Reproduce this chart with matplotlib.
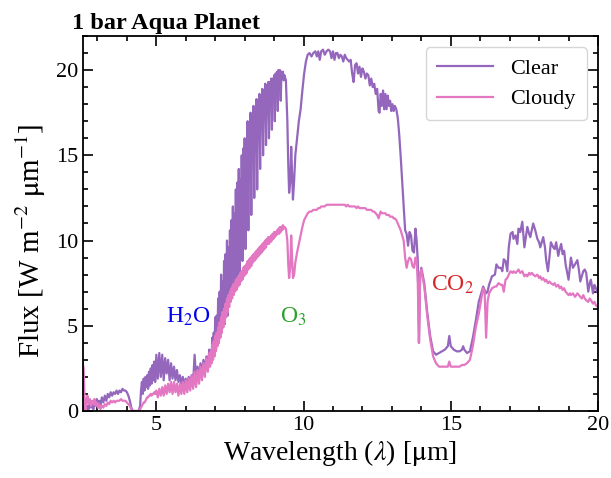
import matplotlib
matplotlib.use("Agg")
import matplotlib.pyplot as plt
from matplotlib.ticker import MultipleLocator
import numpy as np

# ---- Segment 1: 2.5 - 5 um
wl_s1 = [2.50, 2.53, 2.56, 2.59, 2.62, 2.66, 2.70, 2.74, 2.78, 2.82, 2.86, 2.90, 2.94, 2.98,
         3.02, 3.06, 3.10, 3.15, 3.20, 3.25, 3.30, 3.35, 3.40, 3.45, 3.50, 3.55, 3.60, 3.65,
         3.70, 3.75, 3.80, 3.85, 3.90, 3.95, 4.00, 4.05, 4.10, 4.15, 4.20, 4.30, 4.40, 4.45,
         4.48, 4.51, 4.54, 4.57, 4.60, 4.63, 4.66, 4.69, 4.72, 4.75, 4.78, 4.81, 4.84, 4.87,
         4.90, 4.93, 4.96]
clear_s1 = [0.3, 0.1, 0.0, 0.2, 0.0, 0.3, 0.1, 0.4, 0.2, 0.5, 0.1, 0.6, 0.3, 0.7,
            0.2, 0.6, 0.3, 0.8, 0.5, 0.9, 0.6, 1.0, 0.8, 1.1, 0.9, 1.1, 1.0, 1.2,
            1.0, 1.2, 1.1, 1.3, 1.2, 1.2, 1.1, 0.9, 0.6, 0.2, 0.0, 0.0, 0.0, 0.3,
            1.2, 1.7, 1.0, 1.9, 1.2, 2.0, 1.4, 2.1, 1.3, 2.3, 1.5, 2.5, 1.6, 2.7,
            1.8, 2.9, 1.7]
cloudy_s1 = [2.8, 2.5, 0.8, 0.0, 0.6, 0.9, 0.4, 0.7, 0.3, 0.6, 0.4, 0.7, 0.3, 0.5,
             0.2, 0.4, 0.1, 0.3, 0.2, 0.4, 0.3, 0.5, 0.4, 0.6, 0.5, 0.6, 0.5, 0.6,
             0.6, 0.6, 0.7, 0.6, 0.6, 0.6, 0.5, 0.4, 0.3, 0.1, 0.0, 0.0, 0.0, 0.1,
             0.2, 0.3, 0.4, 0.5, 0.5, 0.6, 0.7, 0.8, 0.8, 0.9, 0.9, 1.0, 0.9, 1.0,
             1.0, 1.1, 1.0]

# ---- Segment 2a: water band 5 - 6.75 um
wl_s2a = [5.00, 5.05, 5.10, 5.15, 5.20, 5.25, 5.30, 5.35, 5.40, 5.45, 5.50, 5.55,
          5.60, 5.65, 5.70, 5.75, 5.80, 5.85, 5.90, 5.95, 6.00, 6.05, 6.10, 6.15,
          6.20, 6.25, 6.30, 6.35, 6.40, 6.45, 6.50, 6.55, 6.60, 6.65, 6.70, 6.75]
clear_s2a = [3.3, 1.9, 3.4, 2.0, 3.3, 1.8, 3.1, 2.2, 3.0, 1.8, 2.8, 1.9,
             2.6, 1.8, 2.4, 1.7, 2.1, 1.6, 2.0, 1.5, 1.9, 1.6, 2.0, 1.6,
             2.1, 1.7, 3.3, 1.9, 2.6, 2.0, 2.8, 2.2, 3.0, 2.4, 3.2, 2.6]
cloudy_s2a = [1.2, 0.8, 1.3, 0.9, 1.4, 0.9, 1.5, 1.0, 1.6, 1.1, 1.7, 1.0,
              1.7, 1.1, 1.6, 0.9, 1.6, 1.0, 1.7, 1.0, 1.8, 1.1, 1.9, 1.2,
              2.1, 1.3, 2.3, 1.4, 2.4, 1.6, 2.6, 1.8, 2.8, 2.0, 3.1, 2.3]

# ---- Segment 2b: water band 6.8 - 9.35 um
wl_s2b = [6.800, 6.825, 6.850, 6.875, 6.900, 6.925, 6.950, 6.975,
          7.000, 7.025, 7.050, 7.075, 7.100, 7.125, 7.150, 7.175,
          7.200, 7.225, 7.250, 7.275, 7.300, 7.325, 7.350, 7.375,
          7.400, 7.425, 7.450, 7.475, 7.500, 7.525, 7.550, 7.575,
          7.600, 7.625, 7.650, 7.675, 7.700, 7.725, 7.750, 7.775,
          7.800, 7.825, 7.850, 7.875, 7.900, 7.925, 7.950, 7.975,
          8.000, 8.025, 8.050, 8.075, 8.100, 8.125, 8.150, 8.175,
          8.200, 8.225, 8.250, 8.275, 8.300, 8.325, 8.350, 8.375,
          8.400, 8.425, 8.450, 8.475, 8.500, 8.525, 8.550, 8.575,
          8.600, 8.625, 8.650, 8.675, 8.700, 8.725, 8.750, 8.775,
          8.800, 8.825, 8.850, 8.875, 8.900, 8.925, 8.950, 8.975,
          9.000, 9.025, 9.050, 9.075, 9.100, 9.125, 9.150, 9.175,
          9.200, 9.225, 9.250, 9.275, 9.300, 9.325, 9.350]
clear_s2b = [3.6, 2.8, 3.5, 3.0, 4.3, 3.2, 4.6, 3.4,
             5.5, 3.6, 5.6, 4.2, 6.6, 4.0, 7.0, 4.9,
             8.0, 4.6, 7.6, 5.4, 8.8, 5.1, 9.2, 6.3,
             10.0, 5.6, 9.6, 7.0, 10.6, 6.5, 11.2, 8.0,
             12.0, 7.0, 11.6, 8.6, 13.0, 7.5, 13.4, 9.6,
             14.2, 8.0, 13.6, 10.5, 15.0, 8.8, 15.4, 11.5,
             16.0, 9.5, 15.6, 12.6, 17.0, 10.6, 16.7, 13.8,
             17.5, 11.5, 17.3, 14.8, 17.9, 12.5, 17.6, 15.6,
             18.3, 13.0, 18.1, 16.2, 18.6, 14.2, 18.4, 16.9,
             18.9, 15.0, 18.8, 17.3, 19.2, 15.6, 19.1, 17.8,
             19.3, 16.0, 19.3, 18.1, 19.5, 16.5, 19.5, 18.5,
             19.7, 17.0, 19.8, 18.9, 19.9, 17.6, 20.0, 19.3,
             20.0, 18.2, 19.9, 19.5, 19.9, 19.4, 19.7]
cloudy_s2b = [3.4, 2.6, 3.5, 2.8, 3.9, 3.0, 4.1, 3.2,
              4.4, 3.5, 4.6, 3.8, 4.9, 4.0, 5.2, 4.3,
              5.5, 4.6, 5.8, 4.9, 6.0, 5.2, 6.3, 5.5,
              6.6, 5.8, 6.8, 6.1, 7.0, 6.4, 7.2, 6.6,
              7.4, 6.8, 7.5, 7.0, 7.7, 7.1, 7.8, 7.3,
              7.9, 7.4, 8.1, 7.6, 8.2, 7.7, 8.4, 7.9,
              8.5, 8.0, 8.6, 8.1, 8.8, 8.3, 8.9, 8.4,
              9.0, 8.5, 9.1, 8.7, 9.2, 8.8, 9.3, 8.9,
              9.4, 9.0, 9.5, 9.1, 9.6, 9.2, 9.7, 9.3,
              9.8, 9.4, 9.9, 9.5, 10.0, 9.6, 10.1, 9.8,
              10.2, 9.8, 10.2, 9.9, 10.3, 10.0, 10.4, 10.1,
              10.5, 10.2, 10.5, 10.3, 10.6, 10.4, 10.7, 10.4,
              10.8, 10.5, 10.8, 10.6, 10.9, 10.7, 10.8]

# ---- Segment 3: ozone band
wl_s3 = [9.40, 9.45, 9.48, 9.51, 9.55, 9.58, 9.61, 9.64, 9.68, 9.72, 9.78, 9.84, 9.90,
         9.96, 10.02, 10.08, 10.14, 10.20]
clear_s3 = [19.4, 17.0, 14.5, 12.8, 13.5, 15.5, 14.0, 12.4, 13.5, 15.0, 16.0, 17.0, 17.7,
            18.8, 19.8, 20.5, 20.9, 21.0]
cloudy_s3 = [10.7, 10.0, 8.6, 7.8, 8.5, 10.3, 9.0, 7.8, 8.0, 8.7, 9.3, 9.8, 10.3,
             10.8, 11.2, 11.4, 11.6, 11.7]

# ---- Segment 4: atmospheric window
wl_s4 = [10.27, 10.33, 10.40, 10.45, 10.50, 10.55, 10.60, 10.66, 10.72, 10.78, 10.84, 10.90,
         10.95, 11.00, 11.05, 11.10, 11.15, 11.20, 11.25, 11.30, 11.35, 11.40, 11.45, 11.50,
         11.55, 11.60, 11.65, 11.70, 11.75, 11.80, 11.85, 11.90, 11.95, 12.00, 12.05, 12.10,
         12.15, 12.20, 12.25, 12.30, 12.35, 12.40, 12.45, 12.50, 12.55, 12.58, 12.62, 12.66,
         12.70, 12.74, 12.78, 12.82, 12.86, 12.90, 12.94, 12.98, 13.02, 13.06, 13.10, 13.15,
         13.20, 13.25]
clear_s4 = [20.8, 21.0, 21.1, 20.8, 21.1, 20.6, 21.1, 21.2, 20.9, 21.1, 21.2, 21.1,
            20.7, 21.1, 20.6, 21.0, 21.0, 20.7, 20.9, 20.8, 20.5, 20.9, 20.7, 20.6,
            20.5, 20.6, 19.8, 19.3, 20.3, 20.4, 19.8, 20.2, 19.6, 20.1, 19.9, 19.5,
            19.8, 19.7, 19.1, 19.5, 19.0, 19.2, 18.6, 18.9, 17.6, 17.5, 18.6, 17.9,
            18.8, 17.7, 18.6, 17.7, 18.5, 17.9, 18.2, 17.6, 18.0, 17.6, 17.9, 17.7,
            17.2, 16.2]
cloudy_s4 = [11.7, 11.8, 11.8, 11.8, 11.9, 11.9, 12.0, 12.0, 12.0, 12.1, 12.1, 12.1,
             12.1, 12.1, 12.1, 12.1, 12.1, 12.1, 12.1, 12.1, 12.1, 12.1, 12.0, 12.1,
             12.0, 12.0, 12.0, 12.0, 12.0, 11.9, 12.0, 11.9, 11.9, 11.9, 11.9, 11.9,
             11.8, 11.8, 11.8, 11.8, 11.7, 11.7, 11.6, 11.5, 11.3, 11.5, 11.7, 11.6,
             11.6, 11.6, 11.6, 11.5, 11.5, 11.5, 11.4, 11.4, 11.4, 11.3, 11.3, 11.2,
             11.0, 10.8]

# ---- Segment 5: CO2 band
wl_s5 = [13.30, 13.35, 13.40, 13.45, 13.50, 13.55, 13.60, 13.65, 13.70, 13.75, 13.80, 13.84,
         13.88, 13.92, 13.96, 14.00, 14.10, 14.20, 14.30, 14.40, 14.50, 14.60, 14.70, 14.80,
         14.90, 14.95, 15.00, 15.10, 15.20, 15.30, 15.38, 15.42, 15.46, 15.55, 15.65, 15.75,
         15.85, 15.95, 16.05, 16.10, 16.15, 16.20, 16.25, 16.30, 16.40, 16.50, 16.55, 16.62,
         16.70]
clear_s5 = [14.9, 13.5, 12.0, 10.6, 10.4, 9.7, 10.5, 10.3, 9.4, 9.3, 10.7, 10.0,
            8.8, 4.0, 8.0, 8.4, 7.5, 5.8, 4.4, 3.5, 3.3, 3.4, 3.5, 3.6,
            3.8, 4.4, 3.8, 3.6, 3.5, 3.5, 3.6, 3.8, 3.6, 3.4, 3.5, 4.3,
            5.3, 6.4, 7.0, 7.3, 7.1, 6.9, 7.0, 7.4, 7.9, 8.0, 8.6, 8.4,
            8.4]
cloudy_s5 = [10.6, 10.3, 10.0, 9.0, 8.4, 8.8, 9.0, 8.9, 8.5, 8.4, 9.0, 8.9,
             7.5, 4.0, 8.0, 8.3, 7.3, 5.6, 4.2, 3.2, 2.8, 2.6, 2.6, 2.6,
             2.6, 2.9, 2.6, 2.6, 2.6, 2.6, 2.7, 2.7, 2.7, 2.8, 3.0, 3.8,
             4.9, 5.7, 6.7, 7.2, 7.0, 4.3, 6.4, 6.9, 7.2, 7.3, 7.3, 7.5,
             7.4]

# ---- Segment 6: long-wave tail
wl_s6 = [16.75, 16.80, 16.86, 16.92, 16.97, 17.03, 17.10, 17.13, 17.20, 17.26, 17.30, 17.36,
         17.43, 17.50, 17.56, 17.60, 17.66, 17.70, 17.75, 17.80, 17.87, 17.94, 18.00, 18.04,
         18.09, 18.14, 18.20, 18.24, 18.30, 18.35, 18.40, 18.48, 18.53, 18.58, 18.65, 18.70,
         18.75, 18.80, 18.85, 18.90, 19.00, 19.05, 19.08, 19.15, 19.22, 19.30, 19.35, 19.40,
         19.45, 19.50, 19.55, 19.60, 19.67, 19.72, 19.76, 19.83, 19.88, 19.93, 20.00]
clear_s6 = [8.2, 8.9, 8.8, 8.2, 9.6, 10.4, 10.5, 10.1, 10.3, 9.8, 10.7, 10.5,
            11.1, 9.6, 10.3, 10.8, 10.4, 10.2, 10.6, 11.0, 10.6, 10.1, 9.9, 9.6,
            9.9, 10.2, 9.6, 8.85, 8.2, 9.0, 9.9, 9.6, 9.5, 9.9, 9.1, 9.5,
            9.8, 9.2, 9.4, 8.6, 7.7, 8.5, 9.0, 8.4, 8.6, 8.85, 8.3, 7.6,
            7.9, 8.2, 8.3, 8.1, 7.0, 7.5, 7.7, 6.9, 7.4, 7.2, 6.9]
cloudy_s6 = [7.4, 7.0, 7.7, 7.8, 8.0, 8.2, 8.1, 8.2, 8.1, 8.2, 8.3, 8.1,
             8.2, 7.9, 8.0, 7.9, 8.1, 8.0, 8.1, 8.0, 7.9, 8.0, 7.8, 7.9,
             7.7, 7.8, 7.6, 7.7, 7.5, 7.6, 7.5, 7.4, 7.5, 7.3, 7.4, 7.2,
             7.3, 7.1, 7.2, 7.0, 6.8, 6.9, 6.8, 6.9, 6.7, 6.9, 6.8, 6.7,
             6.6, 6.8, 6.6, 6.5, 6.4, 6.6, 6.5, 6.3, 6.4, 6.2, 6.1]

wavelength = np.concatenate([wl_s1, wl_s2a, wl_s2b, wl_s3, wl_s4, wl_s5, wl_s6])
clear = np.concatenate([clear_s1, clear_s2a, clear_s2b, clear_s3, clear_s4, clear_s5, clear_s6])
cloudy = np.concatenate([cloudy_s1, cloudy_s2a, cloudy_s2b, cloudy_s3, cloudy_s4, cloudy_s5, cloudy_s6])

labels = ["Clear", "Cloudy"]
title = "1 bar Aqua Planet"

plt.rcParams['font.family'] = ['Liberation Serif', 'DejaVu Serif']
plt.rcParams['mathtext.fontset'] = 'stix'

fig = plt.figure(figsize=(6.11, 4.78), dpi=100)
ax = fig.add_axes([0.1354, 0.1402, 0.8433, 0.7845])

ax.plot(wavelength, clear, color='#9467bd', lw=1.6, label=labels[0])
ax.plot(wavelength, cloudy, color='#e377c2', lw=1.6, label=labels[1])

ax.set_xlim(2.5, 20)
ax.set_ylim(0, 22)
ax.xaxis.set_major_locator(MultipleLocator(5))
ax.xaxis.set_minor_locator(MultipleLocator(1))
ax.yaxis.set_major_locator(MultipleLocator(5))
ax.yaxis.set_minor_locator(MultipleLocator(1))
ax.tick_params(which='both', direction='in', top=True, right=True, labelsize=16, width=1.2)
ax.tick_params(which='major', length=7)
ax.tick_params(which='minor', length=3.5)
for s in ax.spines.values():
    s.set_linewidth(1.3)

ax.set_xlabel(r"Wavelength ($\lambda$) [$\mathrm{\mu}$m]", fontsize=20, labelpad=2)
ax.set_ylabel(r"Flux [W m$^{-2}$ $\mathrm{\mu}$m$^{-1}$]", fontsize=21)
ax.yaxis.set_label_coords(-0.068, 0.455)
ax.set_title(title, loc='left', fontsize=17.5, fontweight='bold', x=-0.02, pad=5)

ax.text(6.08, 5.5, r"H$_2$O", color='#0000ee', fontsize=17, ha='center', va='center')
ax.text(9.66, 5.5, r"O$_3$", color='#2ca02c', fontsize=17, ha='center', va='center')
ax.text(15.05, 7.4, r"CO$_2$", color='#d62728', fontsize=17, ha='center', va='center')

leg = ax.legend(loc='upper right', fontsize=16, handlelength=2.5, borderpad=0.5,
                labelspacing=0.45, fancybox=True, borderaxespad=0.5)
leg.get_frame().set_edgecolor('#cccccc')

fig.savefig("out.png", dpi=100)
